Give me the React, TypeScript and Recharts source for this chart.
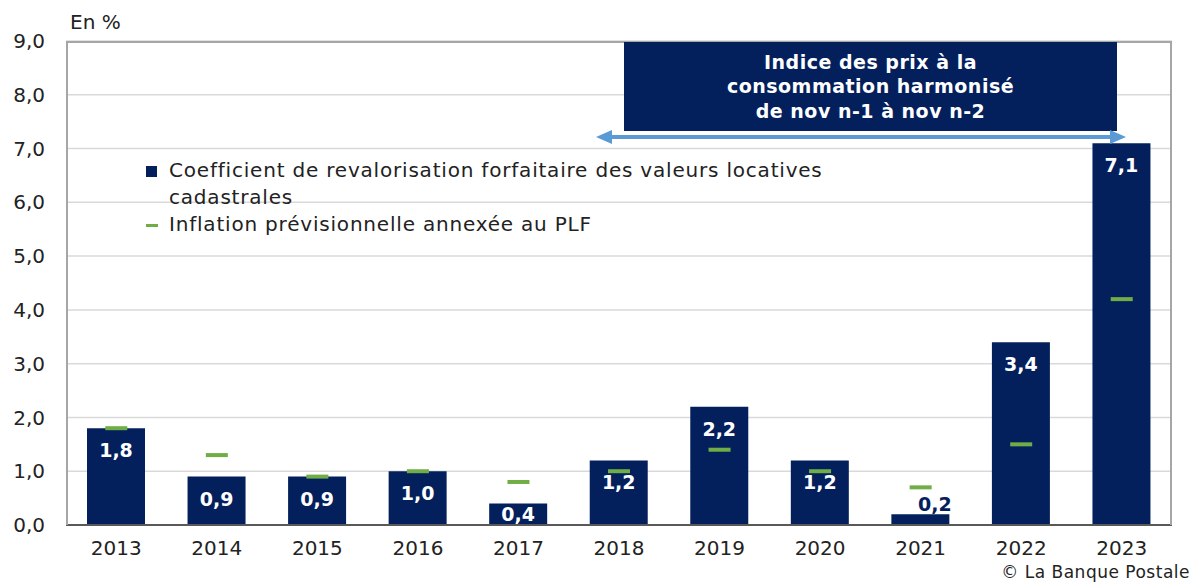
import { ComposedChart, Bar, Line, XAxis, YAxis, CartesianGrid, LabelList } from 'recharts';

const years = ['2013', '2014', '2015', '2016', '2017', '2018', '2019', '2020', '2021', '2022', '2023'];
const coefficient = [1.8, 0.9, 0.9, 1.0, 0.4, 1.2, 2.2, 1.2, 0.2, 3.4, 7.1];
const inflation = [1.8, 1.3, 0.9, 1.0, 0.8, 1.0, 1.4, 1.0, 0.7, 1.5, 4.2];
const yTicks = [0, 1, 2, 3, 4, 5, 6, 7, 8, 9];

const NAVY = '#03205c';
const GREEN = '#70ad47';
const ARROW = '#5b9bd5';
const FONT = '"DejaVu Sans", "Open Sans", sans-serif';

const rows = years.map((year, i) => ({ year, coefficient: coefficient[i], inflation: inflation[i] }));

const fmt = (v: number) => v.toFixed(1).replace('.', ',');

// green dash marker for the PLF forecast
const Dash = (props: any) => {
  const { cx, cy } = props;
  if (cx == null || cy == null) return null;
  return <rect x={cx - 11} y={cy - 2} width={22} height={4} fill={GREEN} />;
};

// value label: inside near the top, or above-right when the bar is too thin
const BarLabel = (props: any) => {
  const { x, y, width, height, value } = props;
  const thin = height < 16;
  const tx = thin ? x + width * 0.75 : x + width / 2;
  const ty = thin ? y - 10 : y + Math.min(22, height / 2);
  return (
    <text x={tx} y={ty} textAnchor="middle" dominantBaseline="central" fill={thin ? NAVY : '#fff'}
      fontSize={19} fontWeight={700} fontFamily={FONT}>
      {fmt(Number(value))}
    </text>
  );
};

export default function App() {
  return (
    <div style={{ position: 'relative', width: 1193, height: 584, background: '#fff', fontFamily: FONT, color: '#222' }}>
      <style>{'body{margin:0}'}</style>
      <ComposedChart width={1193} height={584} data={rows} margin={{ top: 41, right: 21, bottom: 0, left: 0 }}>
        <CartesianGrid vertical={false} stroke="#d9d9d9" strokeWidth={1.5} />
        <XAxis dataKey="year" height={59} tickLine={false} tickSize={0} tickMargin={16}
          axisLine={{ stroke: '#595959', strokeWidth: 2 }}
          tick={{ fill: '#222', fontSize: 20, fontFamily: FONT }} />
        <YAxis domain={[0, 9]} ticks={yTicks} width={66} tickLine={false} tickSize={0} tickMargin={21}
          axisLine={false} tickFormatter={fmt} interval={0}
          tick={{ fill: '#222', fontSize: 20, fontFamily: FONT }} />
        <Bar dataKey="coefficient" fill={NAVY} barSize={58} isAnimationActive={false}>
          <LabelList dataKey="coefficient" content={BarLabel} />
        </Bar>
        <Line dataKey="inflation" stroke="none" dot={<Dash />} activeDot={false} isAnimationActive={false} />
      </ComposedChart>

      {/* plot frame (left, top, right) */}
      <div style={{ position: 'absolute', left: 66, top: 41, width: 1106, height: 484, borderLeft: '2px solid #a6a6a6', borderTop: '2px solid #a6a6a6', borderRight: '2px solid #a6a6a6', boxSizing: 'border-box', pointerEvents: 'none' }} />

      <div style={{ position: 'absolute', left: 70, top: 10, fontSize: 20 }}>En %</div>

      {/* legend */}
      <div style={{ position: 'absolute', left: 146, top: 157, fontSize: 20, lineHeight: '27px', width: 760, letterSpacing: 0.8 }}>
        <div style={{ display: 'flex' }}>
          <span style={{ display: 'inline-block', width: 11, height: 11, background: NAVY, marginTop: 9, marginRight: 12, flex: 'none' }} />
          <span>Coefficient de revalorisation forfaitaire des valeurs locatives<br />cadastrales</span>
        </div>
        <div style={{ display: 'flex' }}>
          <span style={{ display: 'inline-block', width: 12, height: 3, background: GREEN, marginTop: 13, marginRight: 11, flex: 'none' }} />
          <span>Inflation prévisionnelle annexée au PLF</span>
        </div>
      </div>

      {/* annotation box */}
      <div style={{ position: 'absolute', left: 624, top: 42, width: 493, height: 89, background: NAVY, color: '#fff', fontWeight: 700, fontSize: 19, letterSpacing: 0.5, lineHeight: '24.5px', textAlign: 'center', display: 'flex', alignItems: 'center', justifyContent: 'center' }}>
        <div>Indice des prix à la<br />consommation harmonisé<br />de nov n-1 à nov n-2</div>
      </div>
      <svg style={{ position: 'absolute', left: 0, top: 0, pointerEvents: 'none' }} width={1193} height={584}>
        <line x1={608} y1={137} x2={1114} y2={137} stroke={ARROW} strokeWidth={4} />
        <polygon points="596,137 612,130 612,144" fill={ARROW} />
        <polygon points="1126,137 1110,130 1110,144" fill={ARROW} />
      </svg>

      <div style={{ position: 'absolute', right: 3, top: 562, fontSize: 17, letterSpacing: 0.5 }}>© La Banque Postale</div>
    </div>
  );
}
